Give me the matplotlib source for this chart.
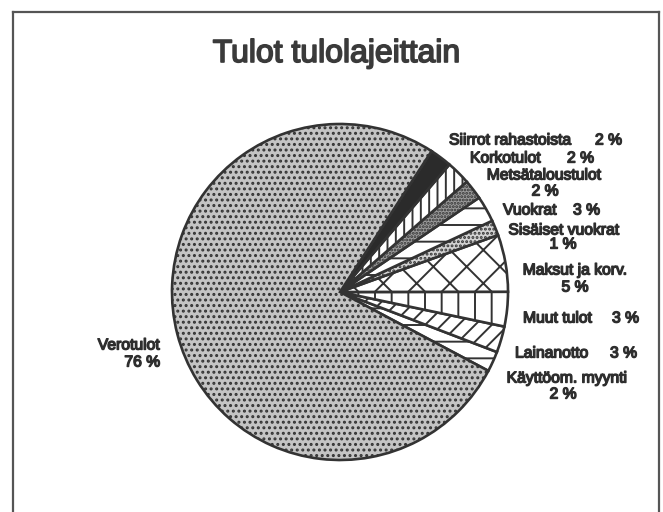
import matplotlib
matplotlib.use("Agg")
import matplotlib.pyplot as plt
import matplotlib.patheffects as pe
from matplotlib.lines import Line2D

plt.rcParams['font.family'] = ['Liberation Sans', 'DejaVu Sans']
plt.rcParams['hatch.linewidth'] = 1.4
plt.rcParams['hatch.color'] = '#333333'

# ---- data (counter-clockwise from lower right) ----
title = "Tulot tulolajeittain"
categories = ["Käyttöom. myynti", "Lainanotto", "Muut tulot", "Maksut ja korv.",
              "Sisäiset vuokrat", "Vuokrat", "Metsätaloustulot", "Korkotulot",
              "Siirrot rahastoista", "Verotulot"]
values = [1.95, 2.5, 3.3, 5.45, 1.45, 2.5, 1.9, 2.3, 2.1, 75.9]
pct_labels = ["2 %", "3 %", "3 %", "5 %", "1 %", "3 %", "2 %", "2 %", "2 %", "76 %"]

# ---- styling ----
hatches = ['-', '//', '|', 'x', '....', '-', '.....', '||', '', '...']
faces = ['white', 'white', 'white', 'white', '#d2d2d2', 'white', '#9c9c9c',
         'white', '#2b2b2b', '#c4c4c4']
ink = '#2e2e2e'

W, H = 663, 512
fig = plt.figure(figsize=(W / 100, H / 100), dpi=100)
ax = fig.add_axes([0, 0, 1, 1])

def Y(py):
    return H - py

wedges, _ = ax.pie(values, startangle=-28, counterclock=True,
                   center=(340, Y(292)), radius=168, colors=faces,
                   wedgeprops=dict(edgecolor='#333333', linewidth=1.9))
for w, h in zip(wedges, hatches):
    w.set_hatch(h)

ax.set_xlim(0, W)
ax.set_ylim(0, H)
ax.set_aspect('equal')
ax.axis('off')

fx = [pe.withStroke(linewidth=1.0, foreground=ink)]

def txt(x, y, s, ha='left', size=11.3):
    ax.text(x, Y(y), s, ha=ha, va='center', fontsize=size, color=ink,
            path_effects=fx)

idx = {c: i for i, c in enumerate(categories)}

# labels: name and percentage on one line
txt(449, 140, categories[idx["Siirrot rahastoista"]])
txt(595, 140, pct_labels[idx["Siirrot rahastoista"]])
txt(470, 158, categories[idx["Korkotulot"]])
txt(567, 158, pct_labels[idx["Korkotulot"]])
txt(544, 175, categories[idx["Metsätaloustulot"]], ha='center')
txt(545, 191, pct_labels[idx["Metsätaloustulot"]], ha='center')
txt(503, 210, categories[idx["Vuokrat"]])
txt(573, 210, pct_labels[idx["Vuokrat"]])
txt(564, 230, categories[idx["Sisäiset vuokrat"]], ha='center')
txt(563, 244, pct_labels[idx["Sisäiset vuokrat"]], ha='center')
txt(575, 270, categories[idx["Maksut ja korv."]], ha='center')
txt(575, 287, pct_labels[idx["Maksut ja korv."]], ha='center')
txt(523, 318, categories[idx["Muut tulot"]])
txt(612, 318, pct_labels[idx["Muut tulot"]])
txt(515, 353, categories[idx["Lainanotto"]])
txt(610, 353, pct_labels[idx["Lainanotto"]])
txt(567, 378, categories[idx["Käyttöom. myynti"]], ha='center')
txt(563, 394, pct_labels[idx["Käyttöom. myynti"]], ha='center')
txt(160, 345, categories[idx["Verotulot"]], ha='right')
txt(160, 362, pct_labels[idx["Verotulot"]], ha='right')

ax.text(337, Y(62), title, ha='center', va='baseline', fontsize=23,
        color='#3a3a3a', path_effects=[pe.withStroke(linewidth=1.2, foreground='#3a3a3a')])

# outer frame (bottom edge lies outside the image)
fc = '#555555'
fig.add_artist(Line2D([13 / W, 13 / W], [0, 1 - 12 / H], transform=fig.transFigure, color=fc, lw=1.6))
fig.add_artist(Line2D([659 / W, 659 / W], [0, 1 - 12 / H], transform=fig.transFigure, color=fc, lw=1.6))
fig.add_artist(Line2D([13 / W, 659 / W], [1 - 12 / H, 1 - 12 / H], transform=fig.transFigure, color=fc, lw=1.6))

fig.savefig("out.png", dpi=100, facecolor='white')
